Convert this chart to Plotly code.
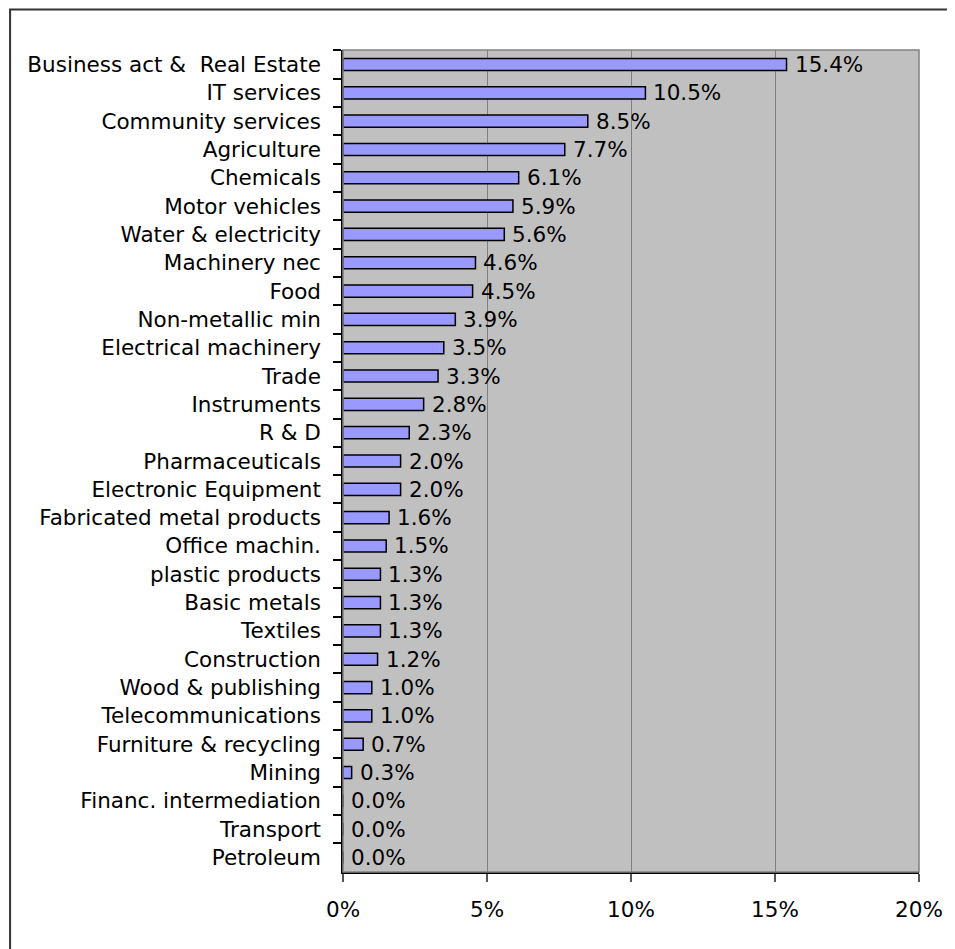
import plotly.graph_objects as go

categories = [
    "Business act &  Real Estate", "IT services", "Community services", "Agriculture",
    "Chemicals", "Motor vehicles", "Water & electricity", "Machinery nec", "Food",
    "Non-metallic min", "Electrical machinery", "Trade", "Instruments", "R & D",
    "Pharmaceuticals", "Electronic Equipment", "Fabricated metal products",
    "Office machin.", "plastic products", "Basic metals", "Textiles", "Construction",
    "Wood & publishing", "Telecommunications", "Furniture & recycling", "Mining",
    "Financ. intermediation", "Transport", "Petroleum",
]
values = [15.4, 10.5, 8.5, 7.7, 6.1, 5.9, 5.6, 4.6, 4.5, 3.9, 3.5, 3.3, 2.8, 2.3,
          2.0, 2.0, 1.6, 1.5, 1.3, 1.3, 1.3, 1.2, 1.0, 1.0, 0.7, 0.3, 0.0, 0.0, 0.0]
x_ticks = [0, 5, 10, 15, 20]
x_tick_labels = ["0%", "5%", "10%", "15%", "20%"]

FONT = "DejaVu Sans"
FS = 21.5

# the page body adds an 8px offset; figure is sized to fill the rest of the window
W, H = 947, 941
L, R, T, B = 335.3, 913.7, 41.5, 864.0

fig = go.Figure()
fig.add_trace(go.Bar(
    x=values, y=categories, orientation="h",
    width=0.43,
    marker=dict(color="#9999FF", line=dict(color="black", width=1.5)),
    hoverinfo="x+y",
))

for v, c in zip(values, categories):
    fig.add_annotation(x=v, y=c, xref="x", yref="y", text=f"{v:.1f}%",
                       showarrow=False, xanchor="left", yanchor="middle",
                       xshift=6, font=dict(family=FONT, size=FS, color="black"))

def px_to_paper_x(px):
    return (px - L) / (R - L)

def px_to_paper_y(py):
    return (B - py) / (B - T)

# plot area border (gray)
fig.add_shape(type="rect", xref="paper", yref="paper", x0=0, x1=1, y0=0, y1=1,
              line=dict(color="#808080", width=1.5), layer="above")
# outer chart border (left + top visible)
fig.add_shape(type="rect", xref="paper", yref="paper",
              x0=px_to_paper_x(1.0), x1=px_to_paper_x(1010),
              y0=px_to_paper_y(1010), y1=px_to_paper_y(1.0),
              line=dict(color="#333333", width=2), layer="below")

fig.update_layout(
    width=W, height=H,
    margin=dict(l=L, r=W - R, t=T, b=H - B, pad=0),
    paper_bgcolor="white", plot_bgcolor="#C0C0C0",
    showlegend=False,
    font=dict(family=FONT, size=FS, color="black"),
)
fig.update_xaxes(
    range=[0, 20], tickmode="array", tickvals=x_ticks, ticktext=x_tick_labels,
    showgrid=True, gridcolor="#808080", gridwidth=1, zeroline=False,
    showline=True, linecolor="black", linewidth=1.5,
    ticks="outside", ticklen=8, tickcolor="#555555", tickwidth=1.5,
    ticklabelstandoff=9, tickfont=dict(family=FONT, size=FS, color="black"),
    fixedrange=True,
)
fig.update_yaxes(
    type="category", autorange="reversed", categoryorder="array",
    categoryarray=categories,
    showgrid=False, zeroline=False,
    showline=True, linecolor="black", linewidth=1.5,
    ticks="outside", tickson="boundaries", ticklen=8, tickcolor="black", tickwidth=1.5,
    ticklabelstandoff=16, tickfont=dict(family=FONT, size=FS, color="black"),
    fixedrange=True,
)

fig.write_html("out.html")
